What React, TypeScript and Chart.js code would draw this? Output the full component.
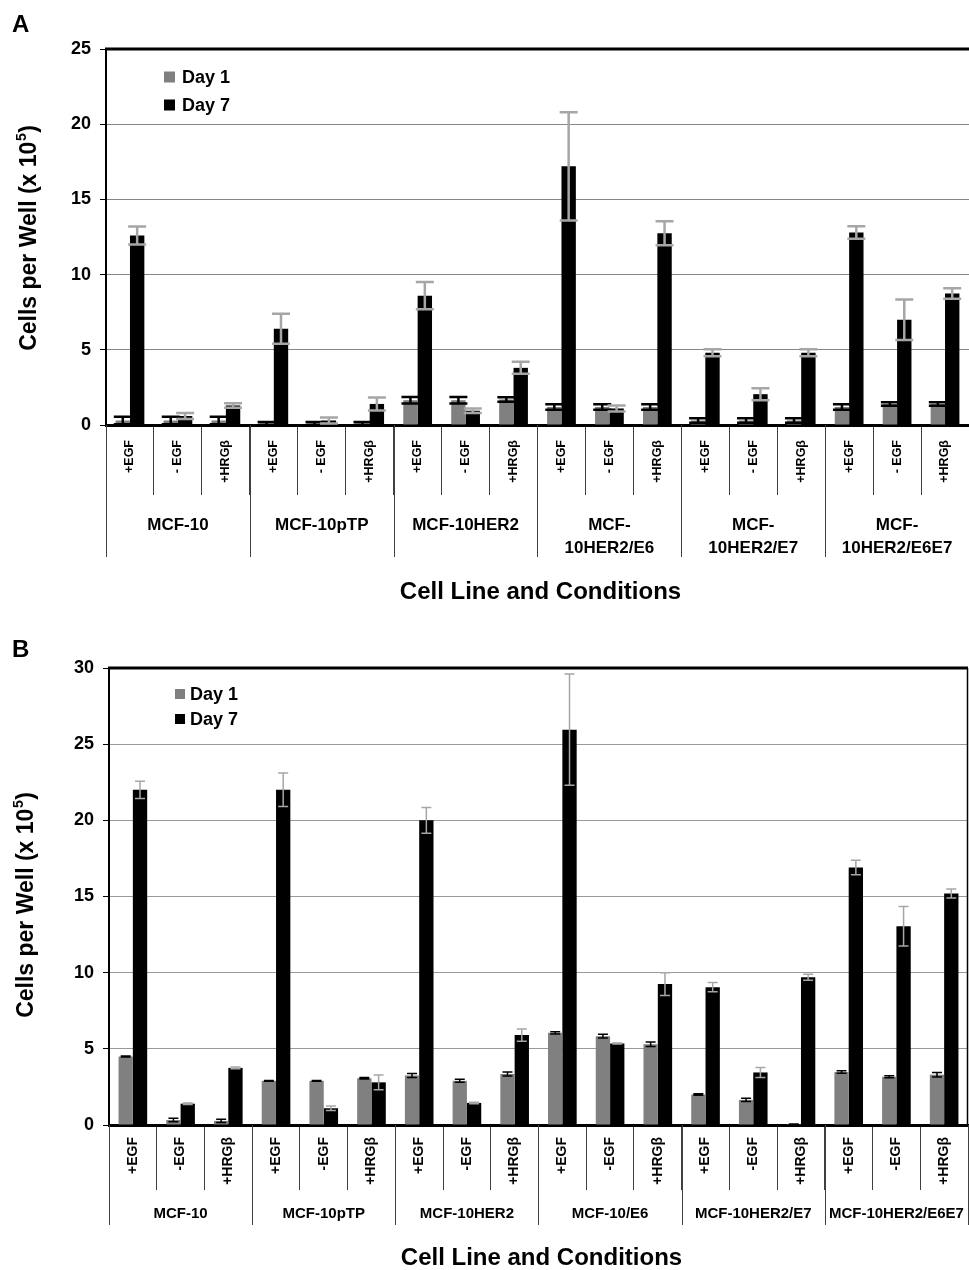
import React, { useEffect, useRef } from "react";
import { Chart, registerables } from "chart.js";

Chart.register(...registerables);

const FONT = "'Liberation Sans', Arial, Helvetica, sans-serif";

// ---------- DATA ----------
const seriesNames = ["Day 1", "Day 7"];

const conditionsA = [
  "+EGF", "- EGF", "+HRGβ", "+EGF", "- EGF", "+HRGβ",
  "+EGF", "- EGF", "+HRGβ", "+EGF", "- EGF", "+HRGβ",
  "+EGF", "- EGF", "+HRGβ", "+EGF", "- EGF", "+HRGβ",
];
const groupsA = [
  ["MCF-10"], ["MCF-10pTP"], ["MCF-10HER2"],
  ["MCF-", "10HER2/E6"], ["MCF-", "10HER2/E7"], ["MCF-", "10HER2/E6E7"],
];
const day1A = [0.3, 0.3, 0.3, 0.1, 0.1, 0.1, 1.65, 1.65, 1.7, 1.2, 1.2, 1.2, 0.3, 0.3, 0.3, 1.2, 1.4, 1.4];
const day1ErrA = [0.25, 0.25, 0.25, 0.1, 0.1, 0.1, 0.22, 0.22, 0.15, 0.18, 0.18, 0.18, 0.15, 0.15, 0.15, 0.18, 0.12, 0.12];
const day7A = [12.6, 0.6, 1.3, 6.4, 0.3, 1.4, 8.6, 0.95, 3.8, 17.2, 1.1, 12.75, 4.8, 2.05, 4.8, 12.8, 7.0, 8.75];
const day7ErrA = [0.6, 0.2, 0.15, 1.0, 0.2, 0.43, 0.9, 0.15, 0.4, 3.6, 0.2, 0.8, 0.23, 0.4, 0.23, 0.42, 1.35, 0.35];
const yMaxA = 25;

const conditionsB = [
  "+EGF", "-EGF", "+HRGβ", "+EGF", "-EGF", "+HRGβ",
  "+EGF", "-EGF", "+HRGβ", "+EGF", "-EGF", "+HRGβ",
  "+EGF", "-EGF", "+HRGβ", "+EGF", "-EGF", "+HRGβ",
];
const groupsB = [
  ["MCF-10"], ["MCF-10pTP"], ["MCF-10HER2"],
  ["MCF-10/E6"], ["MCF-10HER2/E7"], ["MCF-10HER2/E6E7"],
];
const day1B = [4.5, 0.33, 0.27, 2.9, 2.9, 3.07, 3.25, 2.9, 3.35, 6.05, 5.83, 5.3, 2.0, 1.65, 0.05, 3.48, 3.17, 3.3];
const day1ErrB = [0.03, 0.12, 0.1, 0.02, 0.02, 0.05, 0.13, 0.1, 0.13, 0.07, 0.12, 0.15, 0.05, 0.1, 0.02, 0.08, 0.07, 0.15];
const day7B = [22.0, 1.4, 3.75, 22.0, 1.1, 2.8, 20.0, 1.45, 5.9, 25.95, 5.35, 9.25, 9.05, 3.45, 9.7, 16.9, 13.05, 15.2];
const day7ErrB = [0.57, 0.05, 0.05, 1.1, 0.15, 0.48, 0.85, 0.05, 0.4, 3.65, 0.03, 0.75, 0.3, 0.33, 0.2, 0.48, 1.3, 0.3];
const yMaxB = 30;

const yTitleMain = "Cells per Well (x 10";
const yTitleSup = "5";
const yTitleEnd = ")";
const xTitle = "Cell Line and Conditions";

// ---------- PANEL CONFIG ----------
type Cfg = {
  letter: string;
  conditions: string[];
  groups: string[][];
  day1: number[];
  day1Err: number[];
  day7: number[];
  day7Err: number[];
  yMax: number;
  offsetTop: number;
  height: number;
  top: number;
  bottom: number;
  left: number;
  padRight: number;
  tickLen: number;
  labelPad: number;
  condFont: number;
  groupLineEnd: number;
  groupY: number;
  groupLineH: number;
  groupFont: number;
  capW: number;
  errW: number;
  legendSq: number;
  legendSqX: number;
  legendRows: number[];
  legendTextX: number;
  xTitleY: number;
  yTitleX: number;
  yTitleY: number;
  letterY: number;
  rightLine: boolean;
  gridColor: string;
};

const cfgA: Cfg = {
  letter: "A",
  conditions: conditionsA,
  groups: groupsA,
  day1: day1A,
  day1Err: day1ErrA,
  day7: day7A,
  day7Err: day7ErrA,
  yMax: yMaxA,
  offsetTop: 0,
  height: 620,
  top: 49,
  bottom: 425,
  left: 106,
  padRight: 0,
  tickLen: 70,
  labelPad: -55,
  condFont: 12.5,
  groupLineEnd: 557,
  groupY: 525,
  groupLineH: 23,
  groupFont: 17,
  capW: 18,
  errW: 2.5,
  legendSq: 11,
  legendSqX: 164,
  legendRows: [77, 105],
  legendTextX: 182,
  xTitleY: 592,
  yTitleX: 30,
  yTitleY: 238,
  letterY: 32,
  rightLine: false,
  gridColor: "#868686",
};

const cfgB: Cfg = {
  letter: "B",
  conditions: conditionsB,
  groups: groupsB,
  day1: day1B,
  day1Err: day1ErrB,
  day7: day7B,
  day7Err: day7ErrB,
  yMax: yMaxB,
  offsetTop: 620,
  height: 650,
  top: 48,
  bottom: 505,
  left: 109,
  padRight: 1,
  tickLen: 65,
  labelPad: -53,
  condFont: 14,
  groupLineEnd: 605,
  groupY: 594,
  groupLineH: 20,
  groupFont: 15,
  capW: 10,
  errW: 1.5,
  legendSq: 10,
  legendSqX: 175,
  legendRows: [74, 99],
  legendTextX: 190,
  xTitleY: 638,
  yTitleX: 27,
  yTitleY: 285,
  letterY: 37,
  rightLine: true,
  gridColor: "#9a9a9a",
};

function makeOverlay(c: Cfg) {
  return {
    id: "overlay" + c.letter,
    afterDatasetsDraw(chart: any) {
      const ctx = chart.ctx as CanvasRenderingContext2D;
      const ys = chart.scales.y;
      const errSets = [c.day1Err, c.day7Err];
      const colors = ["#000000", "#a6a6a6"];
      ctx.save();
      chart.data.datasets.forEach((ds: any, i: number) => {
        const meta = chart.getDatasetMeta(i);
        const errs = errSets[i];
        ctx.strokeStyle = colors[i];
        ctx.lineWidth = c.errW;
        meta.data.forEach((el: any, j: number) => {
          const v = ds.data[j] as number;
          const e = errs[j];
          const x = el.x;
          const yt = ys.getPixelForValue(v + e);
          const yb = ys.getPixelForValue(Math.max(0, v - e));
          ctx.beginPath();
          ctx.moveTo(x, yt);
          ctx.lineTo(x, yb);
          ctx.moveTo(x - c.capW / 2, yt);
          ctx.lineTo(x + c.capW / 2, yt);
          ctx.moveTo(x - c.capW / 2, yb);
          ctx.lineTo(x + c.capW / 2, yb);
          ctx.stroke();
        });
      });
      ctx.restore();
    },
    afterDraw(chart: any) {
      const ctx = chart.ctx as CanvasRenderingContext2D;
      const area = chart.chartArea;
      const xs = chart.scales.x;
      ctx.save();
      // top border (and right border)
      ctx.strokeStyle = "#000";
      ctx.lineWidth = 3;
      ctx.beginPath();
      ctx.moveTo(area.left - 1, area.top);
      ctx.lineTo(area.right, area.top);
      ctx.stroke();
      if (c.rightLine) {
        ctx.lineWidth = 1.5;
        ctx.beginPath();
        ctx.moveTo(area.right - 0.5, area.top);
        ctx.lineTo(area.right - 0.5, area.bottom);
        ctx.stroke();
      }
      // group separators
      const catW = xs.getPixelForValue(1) - xs.getPixelForValue(0);
      const x0 = xs.getPixelForValue(0) - catW / 2;
      ctx.strokeStyle = "#404040";
      ctx.lineWidth = 1;
      for (let g = 0; g <= c.groups.length; g++) {
        const gx = Math.round(x0 + g * 3 * catW) + 0.5;
        ctx.beginPath();
        ctx.moveTo(gx, area.bottom);
        ctx.lineTo(gx, c.groupLineEnd);
        ctx.stroke();
      }
      // group labels
      ctx.fillStyle = "#000";
      ctx.textAlign = "center";
      ctx.textBaseline = "middle";
      ctx.font = `bold ${c.groupFont}px ${FONT}`;
      c.groups.forEach((lines, g) => {
        const cx = xs.getPixelForValue(g * 3 + 1);
        lines.forEach((t, k) => ctx.fillText(t, cx, c.groupY + k * c.groupLineH));
      });
      // x title
      ctx.font = `bold 24px ${FONT}`;
      ctx.fillText(xTitle, (area.left + area.right) / 2 + 3, c.xTitleY);
      // y title with superscript
      ctx.save();
      ctx.translate(c.yTitleX, c.yTitleY);
      ctx.rotate(-Math.PI / 2);
      ctx.textAlign = "left";
      const fMain = `bold 23px ${FONT}`;
      const fSup = `bold 14px ${FONT}`;
      ctx.font = fMain;
      const w1 = ctx.measureText(yTitleMain).width;
      const w3 = ctx.measureText(yTitleEnd).width;
      ctx.font = fSup;
      const w2 = ctx.measureText(yTitleSup).width;
      const total = w1 + w2 + w3 + 1;
      let sx = -total / 2;
      ctx.font = fMain;
      ctx.fillText(yTitleMain, sx, 0);
      sx += w1;
      ctx.font = fSup;
      ctx.fillText(yTitleSup, sx + 0.5, -8);
      sx += w2 + 1;
      ctx.font = fMain;
      ctx.fillText(yTitleEnd, sx, 0);
      ctx.restore();
      // legend
      ctx.textAlign = "left";
      ctx.textBaseline = "middle";
      ctx.font = `bold 18px ${FONT}`;
      const legColors = ["#808080", "#000000"];
      seriesNames.forEach((name, i) => {
        const cy = c.legendRows[i];
        ctx.fillStyle = legColors[i];
        ctx.fillRect(c.legendSqX, cy - c.legendSq / 2, c.legendSq, c.legendSq);
        ctx.fillStyle = "#000";
        ctx.fillText(name, c.legendTextX, cy + 1);
      });
      // panel letter
      ctx.textBaseline = "alphabetic";
      ctx.font = `bold 24px ${FONT}`;
      ctx.fillText(c.letter, 12, c.letterY);
      ctx.restore();
    },
  };
}

function Panel({ cfg }: { cfg: Cfg }) {
  const ref = useRef<HTMLCanvasElement>(null);
  useEffect(() => {
    const c = cfg;
    const chart = new Chart(ref.current as HTMLCanvasElement, {
      type: "bar",
      data: {
        labels: c.conditions,
        datasets: [
          { label: seriesNames[0], data: c.day1, backgroundColor: "#808080", borderWidth: 0 },
          { label: seriesNames[1], data: c.day7, backgroundColor: "#000000", borderWidth: 0 },
        ],
      },
      options: {
        responsive: false,
        animation: false,
        devicePixelRatio: 1,
        layout: { padding: { left: 0, right: c.padRight, top: c.top, bottom: 0 } },
        datasets: { bar: { barPercentage: 1, categoryPercentage: 0.6 } },
        plugins: { legend: { display: false }, tooltip: { enabled: false } },
        scales: {
          x: {
            grid: {
              display: true,
              drawOnChartArea: false,
              offset: true,
              tickLength: c.tickLen,
              color: "#404040",
              lineWidth: 1,
            },
            border: { display: true, color: "#000", width: 3 },
            ticks: {
              autoSkip: false,
              maxRotation: 90,
              minRotation: 90,
              padding: c.labelPad,
              color: "#000",
              font: { family: FONT, size: c.condFont, weight: "bold" },
            },
            afterFit: (s: any) => {
              s.height = c.height - c.bottom;
            },
          },
          y: {
            min: 0,
            max: c.yMax,
            ticks: {
              stepSize: 5,
              padding: 9,
              color: "#000",
              font: { family: FONT, size: 18, weight: "bold" },
            },
            grid: { color: c.gridColor, lineWidth: 1, tickLength: 6, tickColor: "#000" },
            border: { display: true, color: "#000", width: 2 },
            afterFit: (s: any) => {
              s.width = c.left;
            },
          },
        },
      } as any,
      plugins: [makeOverlay(c)],
    });
    return () => chart.destroy();
  }, [cfg]);
  return (
    <canvas
      ref={ref}
      width={969}
      height={cfg.height}
      style={{ position: "absolute", left: 0, top: cfg.offsetTop, display: "block" }}
    />
  );
}

export default function App() {
  return (
    <div
      style={{
        position: "absolute",
        left: 0,
        top: 0,
        width: 969,
        height: 1270,
        background: "#fff",
        overflow: "hidden",
      }}
    >
      <Panel cfg={cfgA} />
      <Panel cfg={cfgB} />
    </div>
  );
}
